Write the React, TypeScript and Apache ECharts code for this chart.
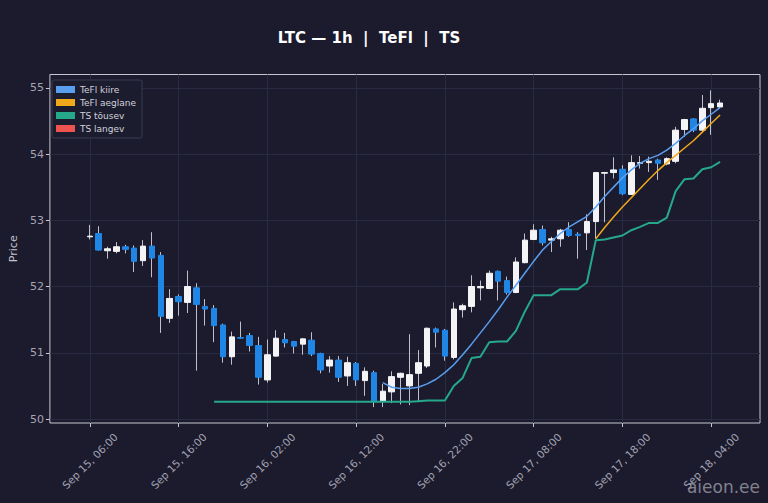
import React, { useEffect, useRef } from 'react'
import * as echarts from 'echarts'

// hourly candles, Sep 15 06:00 -> Sep 18 05:00
const opens = [
  52.75, 52.80, 52.54, 52.53, 52.60, 52.58, 52.39, 52.61, 52.47, 51.52,
  51.85, 51.76, 51.98, 51.70, 51.67, 51.42, 50.94, 51.23, 51.26, 51.11,
  50.59, 50.95, 51.20, 51.17, 51.13, 51.19, 50.99, 50.80, 50.89, 50.65,
  50.84, 50.58, 50.70, 50.27, 50.41, 50.63, 50.50, 50.69, 50.80, 51.36,
  51.34, 50.93, 51.65, 51.70, 51.98, 51.97, 52.23, 52.09, 51.91, 52.36,
  52.71, 52.86, 52.70, 52.72, 52.86, 52.79, 52.81, 52.98, 53.71, 53.72,
  53.77, 53.39, 53.86, 53.87, 53.91, 53.85, 53.89, 54.37, 54.53, 54.36,
  54.70, 54.71,
]
const closes = [
  52.76, 52.55, 52.57, 52.60, 52.56, 52.38, 52.61, 52.43, 51.55, 51.82,
  51.77, 52.00, 51.73, 51.66, 51.41, 50.94, 51.24, 51.22, 51.11, 50.63,
  50.97, 51.22, 51.15, 51.10, 51.21, 50.98, 50.74, 50.89, 50.63, 50.85,
  50.59, 50.72, 50.27, 50.42, 50.64, 50.69, 50.67, 50.85, 51.37, 51.31,
  50.95, 51.66, 51.71, 52.00, 52.00, 52.20, 52.08, 51.91, 52.37, 52.70,
  52.85, 52.66, 52.72, 52.85, 52.77, 52.77, 52.98, 53.72, 53.72, 53.76,
  53.40, 53.87, 53.87, 53.89, 53.86, 53.93, 54.36, 54.52, 54.36, 54.69,
  54.76, 54.77,
]
const lows = [
  52.71, 52.54, 52.42, 52.50, 52.50, 52.22, 52.31, 52.14, 51.30, 51.45,
  51.56, 51.60, 50.73, 51.41, 51.16, 50.85, 50.82, 51.21, 51.02, 50.52,
  50.55, 50.94, 51.08, 50.99, 50.97, 50.95, 50.69, 50.70, 50.56, 50.50,
  50.50, 50.35, 50.18, 50.18, 50.24, 50.22, 50.21, 50.27, 50.77, 51.08,
  50.88, 50.90, 51.53, 51.61, 51.79, 51.96, 51.79, 51.88, 51.90, 52.35,
  52.70, 52.62, 52.52, 52.60, 52.75, 52.42, 52.55, 52.72, 52.97, 53.63,
  53.38, 53.38, 53.78, 53.73, 53.61, 53.83, 53.86, 54.26, 54.33, 54.34,
  54.29, 54.69,
]
const highs = [
  52.93, 52.91, 52.60, 52.67, 52.63, 52.62, 52.70, 52.82, 52.52, 51.96,
  51.88, 52.24, 52.05, 51.81, 51.72, 51.44, 51.32, 51.47, 51.30, 51.24,
  51.20, 51.34, 51.30, 51.18, 51.22, 51.31, 51.00, 50.95, 50.95, 50.94,
  50.86, 50.78, 50.73, 50.53, 50.72, 50.70, 51.28, 51.04, 51.38, 51.38,
  51.36, 51.76, 51.74, 52.17, 52.09, 52.24, 52.24, 52.15, 52.44, 52.80,
  52.94, 52.92, 52.75, 52.87, 52.97, 52.82, 53.09, 53.73, 53.73, 53.95,
  53.83, 53.98, 53.97, 53.96, 53.93, 53.95, 54.41, 54.53, 54.54, 54.89,
  54.96, 54.82,
]

// TeFl kiire starts at candle 33
const fastStart = 33
const fastLine = [
  50.55, 50.48, 50.46, 50.46, 50.48, 50.53, 50.60, 50.70, 50.82, 50.97,
  51.13, 51.30, 51.47, 51.65, 51.84, 52.02, 52.20, 52.38, 52.55, 52.68,
  52.80, 52.90, 52.98, 53.06, 53.20, 53.36, 53.50, 53.64, 53.76, 53.86,
  53.93, 53.98, 54.06, 54.16, 54.28, 54.38, 54.50, 54.60, 54.70,
]
// TeFl aeglane starts at candle 57
const slowStart = 57
const slowLine = [
  52.72, 52.89, 53.05, 53.20, 53.34, 53.48, 53.62, 53.75, 53.87, 53.98,
  54.09, 54.20, 54.33, 54.46, 54.59,
]
// TS tõusev starts at candle 14
const tsUpStart = 14
const tsUp = [
  50.26, 50.26, 50.26, 50.26, 50.26, 50.26, 50.26, 50.26, 50.26, 50.26,
  50.26, 50.26, 50.26, 50.26, 50.26, 50.26, 50.26, 50.26, 50.26, 50.26,
  50.26, 50.26, 50.26, 50.27, 50.28, 50.28, 50.28, 50.50, 50.62, 50.92,
  50.94, 51.16, 51.17, 51.17, 51.33, 51.62, 51.87, 51.87, 51.87, 51.96,
  51.96, 51.96, 52.06, 52.70, 52.71, 52.74, 52.77, 52.85, 52.90, 52.96,
  52.96, 53.04, 53.44, 53.62, 53.63, 53.77, 53.80, 53.88,
]
// TS langev: no values in view
const tsDown: number[] = []

const yTicks = [50, 51, 52, 53, 54, 55]
const MONTHS = ['Jan', 'Feb', 'Mar', 'Apr', 'May', 'Jun', 'Jul', 'Aug', 'Sep', 'Oct', 'Nov', 'Dec']
const startTime = Date.UTC(2025, 8, 15, 6, 0)
const PAD = 4

const BG = '#1b1b2d'
const UP = '#f4f4f6'
const DOWN = '#1f86e6'
const WICK = '#c0c0ca'
const GRIDLINE = '#282b42'
const TEXT = '#a4a4b4'

const fmt = (t: number) => {
  const d = new Date(t)
  const hh = String(d.getUTCHours()).padStart(2, '0')
  return `${MONTHS[d.getUTCMonth()]} ${d.getUTCDate()}, ${hh}:00`
}

const App: React.FC = () => {
  const chartRef = useRef<HTMLDivElement>(null)

  useEffect(() => {
    if (!chartRef.current) return
    const chart = echarts.init(chartRef.current, null, { renderer: 'svg' })

    const n = opens.length
    const total = n + PAD * 2
    const cats: string[] = []
    for (let k = 0; k < total; k++) cats.push(fmt(startTime + (k - PAD) * 3600 * 1000))

    const pad = (arr: any[], start: number) => {
      const out: any[] = []
      for (let k = 0; k < total; k++) {
        const i = k - PAD - start
        out.push(i >= 0 && i < arr.length ? arr[i] : '-')
      }
      return out
    }
    const wicks = pad(opens.map((o, i) => [o, closes[i], lows[i], highs[i]]), 0)
    const bodies = pad(
      opens.map((o, i) => [o, closes[i], Math.min(o, closes[i]), Math.max(o, closes[i])]),
      0
    )
    const showIdx = (idx: number) => idx >= PAD && idx < PAD + n && (idx - PAD) % 10 === 0
    const vLines = cats.filter((_, k) => showIdx(k)).map((c) => ({ xAxis: c }))

    chart.setOption({
      animation: false,
      backgroundColor: BG,
      textStyle: { fontFamily: 'DejaVu Sans' },
      title: {
        text: 'LTC — 1h  |  TeFl  |  TS',
        left: 364,
        top: 25,
        textAlign: 'center',
        textStyle: { color: '#ffffff', fontSize: 15, fontWeight: 'bold', fontFamily: 'DejaVu Sans' },
      },
      legend: {
        orient: 'vertical',
        left: 52,
        top: 80,
        icon: 'rect',
        itemWidth: 19,
        itemHeight: 7,
        itemGap: 4,
        padding: [5, 6, 5, 4],
        backgroundColor: '#1c1c2f',
        borderColor: '#3c3c52',
        borderWidth: 1,
        borderRadius: 2,
        data: ['TeFl kiire', 'TeFl aeglane', 'TS tõusev', 'TS langev'],
        textStyle: { color: '#d2d2da', fontSize: 9, fontFamily: 'DejaVu Sans' },
      },
      grid: {
        left: 46,
        right: 8,
        top: 74.5,
        bottom: 80,
        show: true,
        borderColor: '#c6c6d0',
        borderWidth: 1,
        backgroundColor: BG,
      },
      xAxis: {
        type: 'category',
        data: cats,
        boundaryGap: true,
        axisLine: { show: false },
        axisTick: {
          show: true,
          alignWithLabel: true,
          interval: (idx: number) => showIdx(idx),
          length: 4,
          lineStyle: { color: '#c6c6d0' },
        },
        axisLabel: {
          interval: (idx: number) => showIdx(idx),
          rotate: 45,
          align: 'center',
          verticalAlign: 'middle',
          color: TEXT,
          fontSize: 10.5,
          margin: 38,
        },
        splitLine: { show: false },
      },
      yAxis: {
        type: 'value',
        min: 49.94,
        max: 55.2,
        name: 'Price',
        nameLocation: 'middle',
        nameGap: 28,
        nameTextStyle: { color: '#c4c4cc', fontSize: 11 },
        axisLine: { show: false },
        axisTick: { show: true, length: 4, customValues: yTicks, lineStyle: { color: '#c6c6d0' } },
        axisLabel: { customValues: yTicks, color: TEXT, fontSize: 11, margin: 6 },
        splitLine: { show: true, lineStyle: { color: GRIDLINE, width: 1 } },
      },
      series: [
        {
          name: 'wick',
          type: 'candlestick',
          data: wicks,
          barWidth: 1,
          z: 3,
          itemStyle: { color: WICK, color0: WICK, borderColor: WICK, borderColor0: WICK, borderWidth: 1 },
          markLine: {
            silent: true,
            symbol: 'none',
            label: { show: false },
            z: 1,
            lineStyle: { color: GRIDLINE, width: 1, type: 'solid' },
            data: vLines,
          },
        },
        {
          name: 'body',
          type: 'candlestick',
          data: bodies,
          barWidth: 6,
          z: 4,
          itemStyle: { color: UP, color0: DOWN, borderColor: UP, borderColor0: DOWN, borderWidth: 1 },
        },
        {
          name: 'TeFl kiire',
          type: 'line',
          data: pad(fastLine, fastStart),
          color: '#5a9ef0',
          showSymbol: false,
          z: 5,
          lineStyle: { color: '#5a9ef0', width: 1.5 },
        },
        {
          name: 'TeFl aeglane',
          type: 'line',
          data: pad(slowLine, slowStart),
          color: '#f0a91a',
          showSymbol: false,
          z: 5,
          lineStyle: { color: '#f0a91a', width: 1.5 },
        },
        {
          name: 'TS tõusev',
          type: 'line',
          data: pad(tsUp, tsUpStart),
          color: '#26a88a',
          showSymbol: false,
          z: 5,
          lineStyle: { color: '#26a88a', width: 2 },
        },
        {
          name: 'TS langev',
          type: 'line',
          data: pad(tsDown, 0),
          color: '#ef5350',
          showSymbol: false,
          z: 5,
          lineStyle: { color: '#ef5350', width: 2 },
        },
      ],
      graphic: [
        {
          type: 'text',
          right: 8,
          bottom: 8,
          style: { text: 'aieon.ee', fill: 'rgba(200,200,212,0.6)', fontSize: 17, fontFamily: 'DejaVu Sans' },
        },
      ],
    })

    return () => {
      chart.dispose()
    }
  }, [])

  return (
    <div
      ref={chartRef}
      style={{ position: 'absolute', left: 0, top: 0, width: 768, height: 503 }}
    />
  )
}

export default App
